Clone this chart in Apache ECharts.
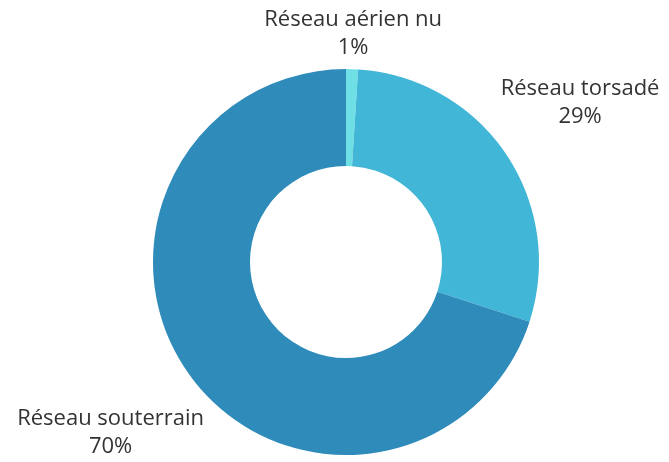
<!DOCTYPE html>
<html>
<head>
<meta charset="utf-8">
<script src="https://cdn.jsdelivr.net/npm/echarts@6/dist/echarts.min.js"></script>
<style>
  html, body { margin: 0; padding: 0; background: #fff; }
  #main { width: 669px; height: 462px; }
</style>
</head>
<body>
<div id="main"></div>
<script>
  // data
  var categories = ['Réseau aérien nu', 'Réseau torsadé', 'Réseau souterrain'];
  var values = [1, 29, 70];
  var colors = ['#6fdfe6', '#42b6d6', '#2e8bba'];
  // how far each label sits outside the ring (px)
  var labelGap = [35, 90, 98];

  var chart = echarts.init(document.getElementById('main'));

  var data = categories.map(function (name, i) {
    return {
      name: name,
      value: values[i],
      itemStyle: { color: colors[i] },
      labelLine: { show: false, length: labelGap[i], length2: 0 }
    };
  });

  chart.setOption({
    animation: false,
    series: [
      {
        type: 'pie',
        center: [346, 262],
        radius: [96, 193],
        startAngle: 90,
        clockwise: true,
        avoidLabelOverlap: false,
        itemStyle: { borderWidth: 0 },
        label: {
          show: true,
          position: 'outside',
          formatter: '{a|{b}}\n{a|{d}%}',
          rich: {
            a: {
              fontFamily: 'Open Sans',
              fontSize: 22,
              lineHeight: 28,
              color: '#333',
              align: 'center'
            }
          }
        },
        labelLayout: function (params) {
          // center the label on the end point instead of left/right aligning
          var shift = params.align === 'left' ? -5 : (params.align === 'right' ? 5 : 0);
          return { align: 'center', verticalAlign: 'middle', dx: shift };
        },
        data: data
      }
    ]
  });
</script>
</body>
</html>
